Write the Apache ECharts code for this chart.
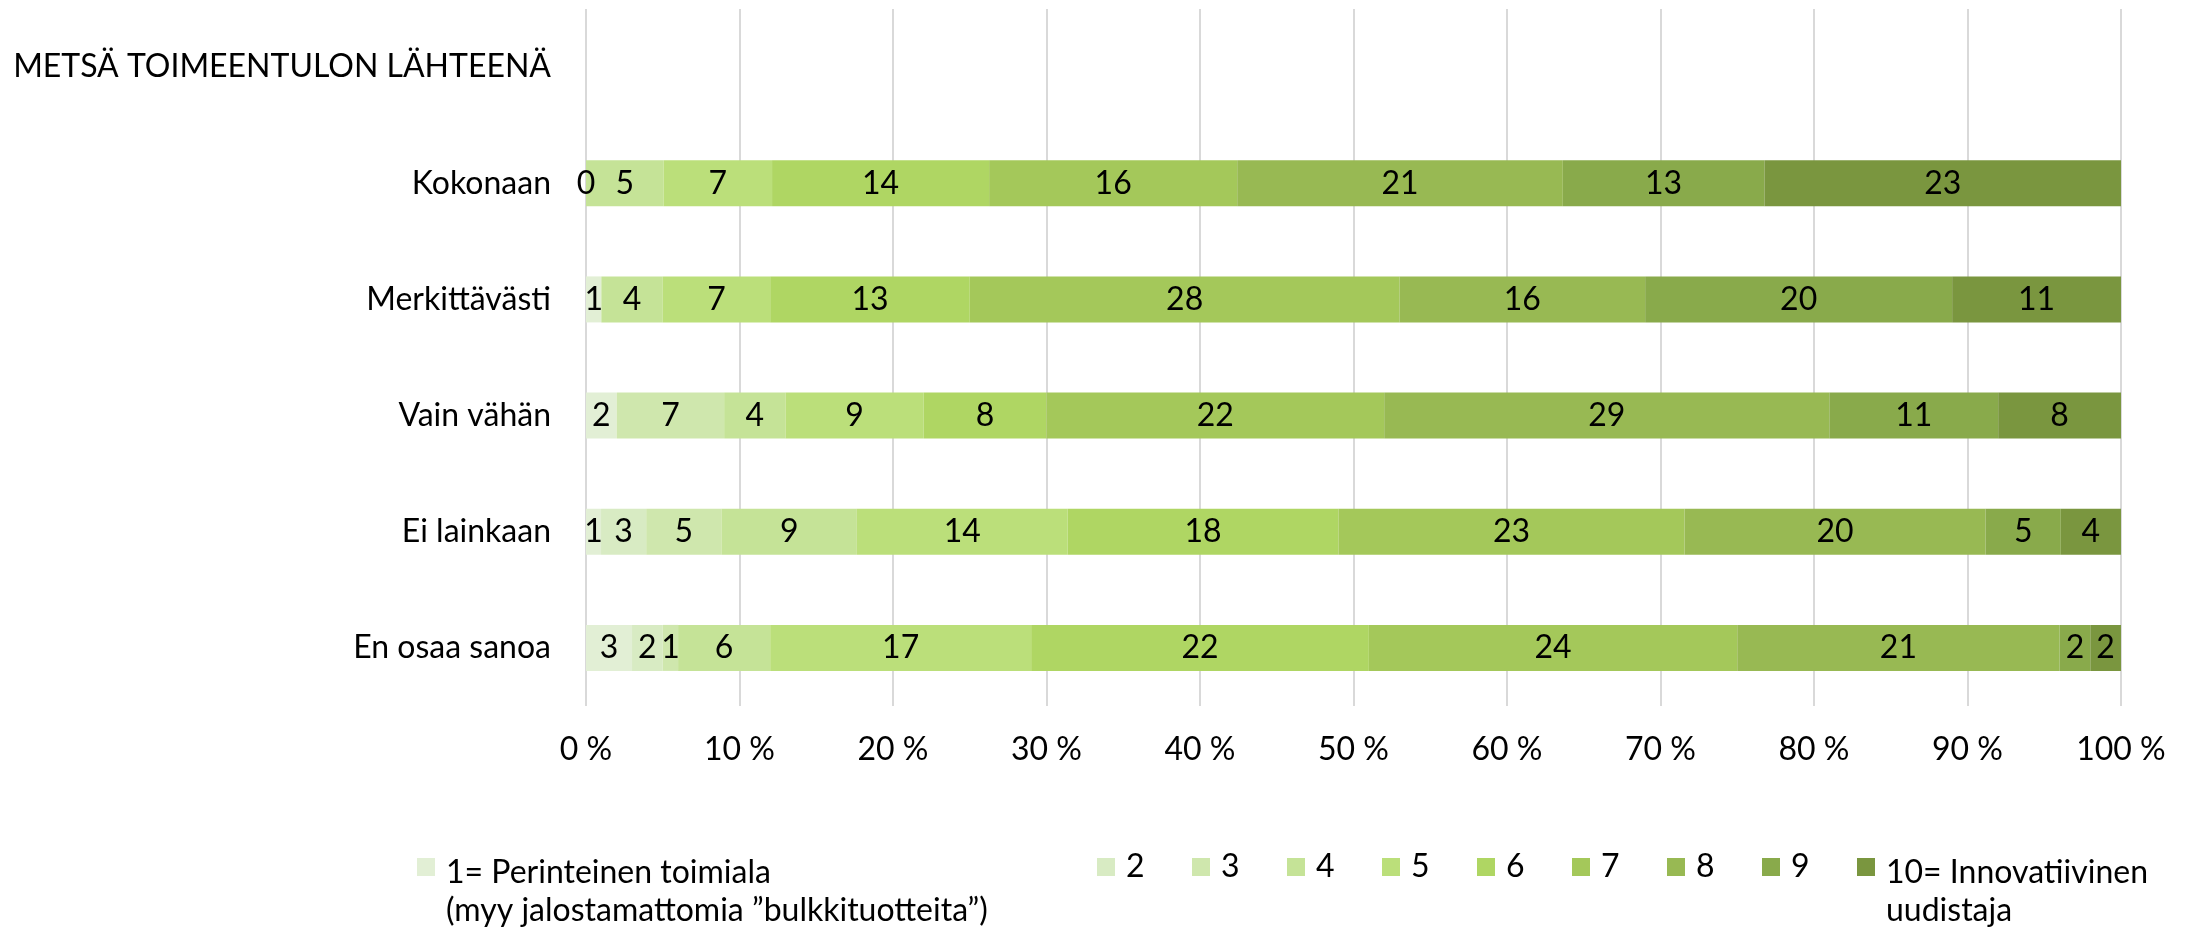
<!DOCTYPE html>
<html>
<head>
<meta charset="utf-8">
<script src="https://cdn.jsdelivr.net/npm/echarts@6/dist/echarts.min.js"></script>
<style>
  html, body { margin: 0; padding: 0; background: #fff; }
  #chart { width: 2196px; height: 930px; }
</style>
</head>
<body>
<div id="chart"></div>
<script>
// categories, top to bottom (first one is the group heading row, no bar)
const categories = ["METSÄ TOIMEENTULON LÄHTEENÄ", "Kokonaan", "Merkittävästi", "Vain vähän", "Ei lainkaan", "En osaa sanoa"];

// legend lines for each score class
const legendLines = [
  ["1= Perinteinen toimiala", "(myy jalostamattomia ”bulkkituotteita”)"],
  ["2"], ["3"], ["4"], ["5"], ["6"], ["7"], ["8"], ["9"],
  ["10= Innovatiivinen", "uudistaja"]
];
const seriesNames = legendLines.map((l) => l.join(" "));

// raw shares per class (null = no label / no value)
const s1 = [null, 0, 1, 2, 1, 3];
const s2 = [null, null, null, null, 3, 2];
const s3 = [null, null, null, 7, 5, 1];
const s4 = [null, 5, 4, 4, 9, 6];
const s5 = [null, 7, 7, 9, 14, 17];
const s6 = [null, 14, 13, 8, 18, 22];
const s7 = [null, 16, 28, 22, 23, 24];
const s8 = [null, 21, 16, 29, 20, 21];
const s9 = [null, 13, 20, 11, 5, 2];
const s10 = [null, 23, 11, 8, 4, 2];
const seriesValues = [s1, s2, s3, s4, s5, s6, s7, s8, s9, s10];

const colors = ["#e2efd5", "#d8ebc3", "#cfe7ad", "#c5e397", "#bbdf7a",
  "#afd663", "#a4c85a", "#98b953", "#89aa4b", "#7a963f"];

const xTicks = { min: 0, max: 100, interval: 10 };

const font = "Lato";
const fs = 32;

// 100 % stacked: normalise each row
const rowSums = categories.map((c, i) =>
  seriesValues.reduce((acc, s) => acc + (s[i] || 0), 0));

const series = seriesValues.map((vals, k) => ({
  name: seriesNames[k],
  type: "bar",
  stack: "total",
  barWidth: 46,
  itemStyle: { color: colors[k] },
  label: {
    show: true,
    position: "inside",
    color: "#000",
    fontFamily: font,
    fontSize: fs,
    formatter: (p) => (p.data.raw == null ? "" : String(p.data.raw)),
  },
  data: vals.map((v, i) => (v == null ? { value: null, raw: null }
    : { value: rowSums[i] ? (v / rowSums[i]) * 100 : 0, raw: v })),
}));

const tok = { fontFamily: font, fontSize: fs, color: "#000", padding: [0, 0, 0, 6] };

const chart = echarts.init(document.getElementById("chart"));
chart.setOption({
  animation: false,
  color: colors,
  grid: { left: 586, right: 75, top: 9, bottom: 224, containLabel: false },
  xAxis: {
    type: "value",
    min: xTicks.min,
    max: xTicks.max,
    interval: xTicks.interval,
    axisLine: { show: false },
    axisTick: { show: false },
    splitLine: { lineStyle: { color: "#d9d9d9", width: 2 } },
    axisLabel: {
      formatter: "{value} %",
      color: "#000",
      fontFamily: font,
      fontSize: fs,
      margin: 28,
    },
  },
  yAxis: {
    type: "category",
    inverse: true,
    data: categories,
    axisLine: { show: false },
    axisTick: { show: false },
    axisLabel: { color: "#000", fontFamily: font, fontSize: fs, margin: 35 },
  },
  legend: {
    data: seriesNames,
    left: 417,
    top: 851,
    padding: 0,
    itemGap: 0,
    itemWidth: 18,
    itemHeight: 18,
    icon: "rect",
    selectedMode: false,
    formatter: (name) => {
      const l = legendLines[seriesNames.indexOf(name)];
      if (l.length > 1) {
        const key = name.startsWith("1=") ? "a" : "c";
        return "{" + key + "1|" + l[0] + "}\n{" + key + "2|" + l[1] + "}";
      }
      return "{d|" + l[0] + "}";
    },
    textStyle: {
      color: "#000",
      fontFamily: font,
      fontSize: fs,
      rich: {
        a1: Object.assign({}, tok, { width: 651, lineHeight: 88, verticalAlign: "bottom" }),
        a2: Object.assign({}, tok, { width: 651, lineHeight: 44 }),
        c1: Object.assign({}, tok, { lineHeight: 88, verticalAlign: "bottom" }),
        c2: Object.assign({}, tok, { lineHeight: 44 }),
        d: Object.assign({}, tok, { width: 66, lineHeight: 44 }),
      },
    },
  },
  series: series,
});
</script>
</body>
</html>
